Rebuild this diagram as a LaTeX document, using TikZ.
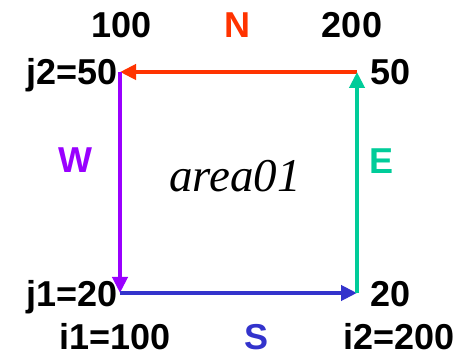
\documentclass[tikz,border=0pt]{standalone}
\usepackage{fontspec}
\setmainfont{Liberation Sans}
\newfontfamily\serifit{Liberation Serif}
\usetikzlibrary{arrows.meta}
\definecolor{nred}{HTML}{FF3300}
\definecolor{wpurple}{HTML}{9900FF}
\definecolor{sblue}{HTML}{3333CC}
\definecolor{egreen}{HTML}{00CC99}
\begin{document}
\begin{tikzpicture}[x=1pt,y=-1pt,
  lbl/.style={inner sep=0pt,font=\fontsize{36}{40}\selectfont\bfseries},
  side/.style={line width=4.5pt,-{Triangle[length=16pt,width=15pt]}}]
\useasboundingbox (0,0) rectangle (472,358);
\coordinate (tl) at (120,72);
\coordinate (tr) at (357,72);
\coordinate (bl) at (120,293);
\coordinate (br) at (357,293);
\draw[side,nred] (tr) -- (tl);
\draw[side,wpurple] (tl) -- (bl);
\draw[side,sblue] (bl) -- (br);
\draw[side,egreen] (br) -- (tr);
\node[lbl,anchor=base] (t100) at (122,38) {100};
\node[lbl,anchor=base,text=nred] (tN) at (237,38) {N};
\node[lbl,anchor=base] (t200) at (352,38) {200};
\node[lbl,anchor=base east] (tj2) at (118,85) {j2=50};
\node[lbl,anchor=base west] (t50) at (370,85) {50};
\node[lbl,anchor=base,text=wpurple] (tW) at (75.5,173) {W};
\node[lbl,anchor=base,text=egreen] (tE) at (382,174) {E};
\node[inner sep=0pt,anchor=base,font=\fontsize{47}{52}\selectfont\serifit\itshape] (tarea) at (235,192) {area01};
\node[lbl,anchor=base east] (tj1) at (118,307) {j1=20};
\node[lbl,anchor=base west] (t20) at (370,307) {20};
\node[lbl,anchor=base] (ti1) at (115,350) {i1=100};
\node[lbl,anchor=base,text=sblue] (tS) at (257,350) {S};
\node[lbl,anchor=base] (ti2) at (399,350) {i2=200};
\end{tikzpicture}
\end{document}
